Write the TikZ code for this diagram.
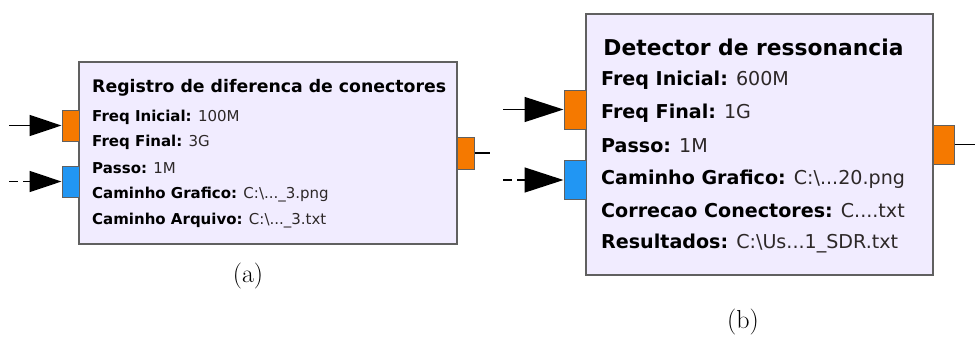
\documentclass[tikz,border=0pt]{standalone}
\usepackage{fontspec}
\usetikzlibrary{arrows.meta}
\newfontfamily\grcfont{DejaVu Sans}
\definecolor{blockfill}{RGB}{241,236,255}
\definecolor{blockdraw}{RGB}{96,96,96}
\definecolor{portorange}{RGB}{245,121,0}
\definecolor{portblue}{RGB}{33,150,243}
\definecolor{valcol}{RGB}{45,40,40}
\tikzset{
  blockbox/.style={draw=blockdraw, fill=blockfill, line width=1.2pt, inner sep=0},
  portO/.style={draw=blockdraw, fill=portorange, line width=1pt, inner sep=0},
  portB/.style={draw=blockdraw, fill=portblue, line width=1pt, inner sep=0},
  txtA/.style={anchor=west, inner sep=0, font=\grcfont\fontsize{15}{17}\selectfont, text=valcol},
  ttlA/.style={anchor=west, inner sep=0, font=\grcfont\bfseries\fontsize{17.3}{19}\selectfont},
  txtB/.style={anchor=west, inner sep=0, font=\grcfont\fontsize{19.1}{21}\selectfont, text=valcol},
  ttlB/.style={anchor=center, inner sep=0, font=\grcfont\bfseries\fontsize{21.8}{24}\selectfont},
  inA/.style={line width=1.5pt, -{Triangle[length=32pt,width=21pt]}},
  inB/.style={line width=1.5pt, -{Triangle[length=39pt,width=25pt]}},
  outline/.style={line width=1.5pt},
  captext/.style={inner sep=0, font=\fontsize{26}{30}\selectfont}
}
\begin{document}
\begin{tikzpicture}[x=1pt,y=-1pt]
\path[use as bounding box] (0,0) rectangle (979,338);
% ---------- (a)
\node[blockbox, minimum width=378pt, minimum height=182pt] (ba) at (268,153) {};
\node[portO, minimum width=17pt, minimum height=31pt] (aio) at (70.5,125.5) {};
\node[portB, minimum width=17pt, minimum height=31pt] (aib) at (70.5,181.5) {};
\node[portO, minimum width=17pt, minimum height=32pt] (aoo) at (465.5,153) {};
\coordinate (as1) at (9,125.5);
\coordinate (as2) at (9,181.5);
\coordinate (ae) at (490,153);
\draw[inA] (as1) -- (aio.west);
\draw[inA, dash pattern=on 9pt off 5pt] (as2) -- (aib.west);
\draw[outline] (aoo.east) -- (ae);
\node[ttlA] (at) at (92,88) {Registro de diferenca de conectores};
\node[txtA] (a1) at (92,117) {\textbf{\color{black}Freq Inicial:} 100M};
\node[txtA] (a2) at (92,142) {\textbf{\color{black}Freq Final:} 3G};
\node[txtA] (a3) at (92,168) {\textbf{\color{black}Passo:} 1M};
\node[txtA] (a4) at (92,195) {\textbf{\color{black}Caminho Grafico:} C:\textbackslash...\_3.png};
\node[txtA] (a5) at (92,221) {\textbf{\color{black}Caminho Arquivo:} C:\textbackslash...\_3.txt};
\node[captext] (ca) at (248,276) {(a)};
% ---------- (b)
\node[blockbox, minimum width=347pt, minimum height=261pt] (bb) at (759.5,144.5) {};
\node[portO, minimum width=22pt, minimum height=39pt] (bio) at (575,109.5) {};
\node[portB, minimum width=22pt, minimum height=39pt] (bib) at (575,180) {};
\node[portO, minimum width=21pt, minimum height=39pt] (boo) at (943.5,144.5) {};
\coordinate (bs1) at (503,109.5);
\coordinate (bs2) at (503,180);
\coordinate (be) at (975,144.5);
\draw[inB] (bs1) -- (bio.west);
\draw[inB, dash pattern=on 9pt off 5pt] (bs2) -- (bib.west);
\draw[outline] (boo.east) -- (be);
\node[ttlB] (bt) at (753.5,47) {Detector de ressonancia};
\node[txtB] (b1) at (601,80) {\textbf{\color{black}Freq Inicial:} 600M};
\node[txtB] (b2) at (601,113) {\textbf{\color{black}Freq Final:} 1G};
\node[txtB] (b3) at (601,146) {\textbf{\color{black}Passo:} 1M};
\node[txtB] (b4) at (601,179) {\textbf{\color{black}Caminho Grafico:} C:\textbackslash...20.png};
\node[txtB] (b5) at (601,211) {\textbf{\color{black}Correcao Conectores:} C....txt};
\node[txtB] (b6) at (601,243) {\textbf{\color{black}Resultados:} C:\textbackslash Us...1\_SDR.txt};
\node[captext] (cb) at (743,322) {(b)};
\end{tikzpicture}
\end{document}
